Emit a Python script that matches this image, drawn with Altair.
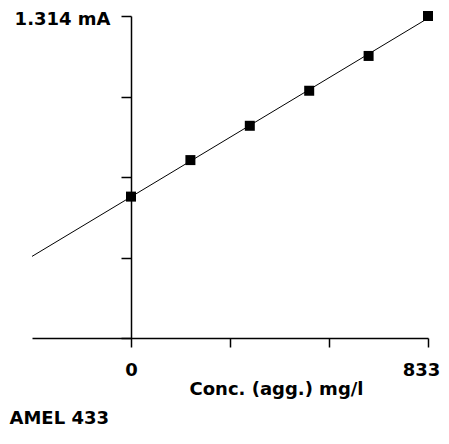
import altair as alt
import pandas as pd

# Data
conc = [0, 166.6, 333.2, 499.8, 666.4, 833]
current = [0.577, 0.726, 0.866, 1.009, 1.151, 1.314]

x_ticks = [0, 277.67, 555.33, 833]
y_ticks = [0, 0.3285, 0.657, 0.9855, 1.314]
x_domain = [-277.67, 833]
y_domain = [0, 1.314]

df = pd.DataFrame({"conc": conc, "current": current})

FONT = "DejaVu Sans"

xs = alt.Scale(domain=x_domain, nice=False, zero=False)
ys = alt.Scale(domain=y_domain, nice=False, zero=False)

common = dict(
    grid=False,
    domainColor="black",
    tickColor="black",
    domainWidth=1.5,
    tickWidth=1.5,
    labelFont=FONT,
    labelFontSize=18,
    labelFontWeight="bold",
    labelColor="black",
    titleFont=FONT,
    titleFontSize=18,
    titleFontWeight="bold",
    titleColor="black",
    labelOverlap=False,
    labelFlush=False,
)

x_axis = alt.Axis(
    values=x_ticks,
    labelExpr="datum.value == 0 || datum.value > 800 ? datum.label : ''",
    labelOffset={"condition": {"test": "datum.value > 800", "value": -7}, "value": 0},
    title="Conc. (agg.) mg/l",
    titleX=244,
    titleY=42,
    titleAlign="center",
    titleBaseline="top",
    tickSize=9,
    labelPadding=14,
    **common,
)

y_axis = alt.Axis(
    values=y_ticks,
    labelExpr="datum.value > 1.3 ? '1.314 mA' : ''",
    labelOffset=3.5,
    offset=-99,
    tickSize=10,
    labelPadding=11,
    title="AMEL 433",
    titleAngle=0,
    titleX=-122,
    titleY=393,
    titleAlign="left",
    titleBaseline="top",
    **common,
)

line = (
    alt.Chart(df)
    .transform_regression("conc", "current", extent=x_domain)
    .mark_line(color="black", strokeWidth=1)
    .encode(
        x=alt.X("conc:Q", scale=xs, axis=x_axis),
        y=alt.Y("current:Q", scale=ys, axis=y_axis),
    )
)

points = (
    alt.Chart(df)
    .mark_square(size=100, color="black", opacity=1)
    .encode(
        x=alt.X("conc:Q", scale=xs, axis=x_axis),
        y=alt.Y("current:Q", scale=ys, axis=y_axis),
    )
)

chart = (
    alt.layer(line, points)
    .properties(
        width=396,
        height=322,
        padding={"left": 24, "top": 8, "right": 13, "bottom": 95},
        autosize=alt.AutoSizeParams(type="none"),
        background="white",
    )
    .configure_view(stroke=None)
)

chart.save("out.html", embed_options={"renderer": "svg", "actions": False})
